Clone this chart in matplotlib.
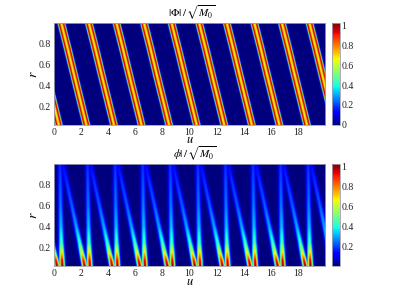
import numpy as np
import matplotlib
matplotlib.use('Agg')
import matplotlib.pyplot as plt

plt.rcParams['font.family'] = ['Liberation Serif', 'DejaVu Serif']
plt.rcParams['mathtext.fontset'] = 'stix'

# band start positions along u (one band per period)
band_u = [-2.03, 0.0, 2.03, 4.06, 6.09, 8.12, 10.15, 12.18, 14.21, 16.24, 18.27, 20.30]

# top panel: band centre against r, and the cross section of one band
top_r = [0.03, 0.25, 0.5, 0.75, 0.99]
top_centre = [2.37, 1.95, 1.47, 1.0, 0.53]
top_off = [-0.38, -0.32, -0.27, -0.21, -0.16, -0.08, 0.0, 0.08, 0.16, 0.21, 0.27, 0.32, 0.38]
top_val = [0.0, 0.08, 0.38, 0.85, 1.03, 0.78, 0.60, 0.78, 1.03, 0.85, 0.38, 0.08, 0.0]

# bottom panel: the two streaks of each group
low_r = [0.03, 0.08, 0.15, 0.25, 0.4, 0.6, 0.8, 0.99]
steep_u = [0.60, 0.58, 0.56, 0.53, 0.50, 0.47, 0.45, 0.43]
steep_amp = [1.03, 0.98, 0.74, 0.47, 0.34, 0.26, 0.22, 0.18]
tilt_u = [2.24, 2.16, 2.04, 1.88, 1.63, 1.30, 0.96, 0.65]
tilt_amp = [1.03, 0.95, 0.68, 0.45, 0.31, 0.23, 0.19, 0.14]
low_off = [-0.40, -0.30, -0.22, -0.15, -0.07, 0.0, 0.07, 0.15, 0.22, 0.30, 0.40]
low_shape = [0.0, 0.05, 0.22, 0.55, 0.90, 1.0, 0.90, 0.55, 0.22, 0.05, 0.0]

x_ticks = [0, 2, 4, 6, 8, 10, 12, 14, 16, 18]
r_ticks = [0.2, 0.4, 0.6, 0.8]

u = np.linspace(0, 20, 800)
r = np.linspace(0.03, 0.99, 300)
U, R = np.meshgrid(u, r)

top_field = np.zeros_like(U)
low_field = np.zeros_like(U)
for b in band_u:
    top_field += np.interp(U - b - np.interp(R, top_r, top_centre), top_off, top_val, left=0, right=0)
    low_field = np.maximum(low_field, np.interp(R, low_r, steep_amp) * np.interp(U - b - np.interp(R, low_r, steep_u), low_off, low_shape, left=0, right=0))
    low_field = np.maximum(low_field, np.interp(R, low_r, tilt_amp) * np.interp(U - b - np.interp(R, low_r, tilt_u), low_off, low_shape, left=0, right=0))

fig = plt.figure(figsize=(4.15, 2.99), dpi=100)
W, H = 415.0, 299.0


def panel(field, y0, y1, title, title_x, cb_ticks, cb_labels, vmin):
    ax = fig.add_axes([54 / W, 1 - y1 / H, 271 / W, (y1 - y0) / H])
    im = ax.imshow(field, origin='lower', extent=[0, 20, 0.03, 0.99], aspect='auto',
                   cmap='jet', vmin=vmin, vmax=1.03, interpolation='bilinear')
    ax.set_xticks(x_ticks)
    ax.set_yticks(r_ticks)
    ax.set_yticklabels(['0.2', '0.4', '0.6', '0.8'])
    ax.tick_params(length=0, labelsize=7, pad=2.5, colors='#222222')
    ax.set_xlabel(r'$u$', fontsize=9, labelpad=-2)
    ax.set_ylabel(r'$r$', fontsize=10, labelpad=-1)
    ax.set_title(title, fontsize=8, pad=4, x=title_x)
    for s in ax.spines.values():
        s.set_color('#a0a0b0')
        s.set_linewidth(0.6)
    cax = fig.add_axes([332 / W, 1 - y1 / H, 8 / W, (y1 - y0) / H])
    cb = fig.colorbar(im, cax=cax)
    cb.set_ticks(cb_ticks)
    cb.set_ticklabels(cb_labels)
    cb.ax.tick_params(length=0, labelsize=7, pad=1, colors='#222222')
    cb.outline.set_edgecolor('#a0a0b0')
    cb.outline.set_linewidth(0.6)


panel(top_field, 23, 124.5, r'$|\Phi|\,/\,\sqrt{M_0}$', 0.51, [0, 0.2, 0.4, 0.6, 0.8, 1],
      ['0', '0.2', '0.4', '0.6', '0.8', '1'], 0)
panel(low_field, 164, 266, r'$\phi|\,/\,\sqrt{M_0}$', 0.52, [0.2, 0.4, 0.6, 0.8, 1],
      ['0.2', '0.4', '0.6', '0.8', '1'], 0.003)

fig.savefig('out.png', dpi=100)
